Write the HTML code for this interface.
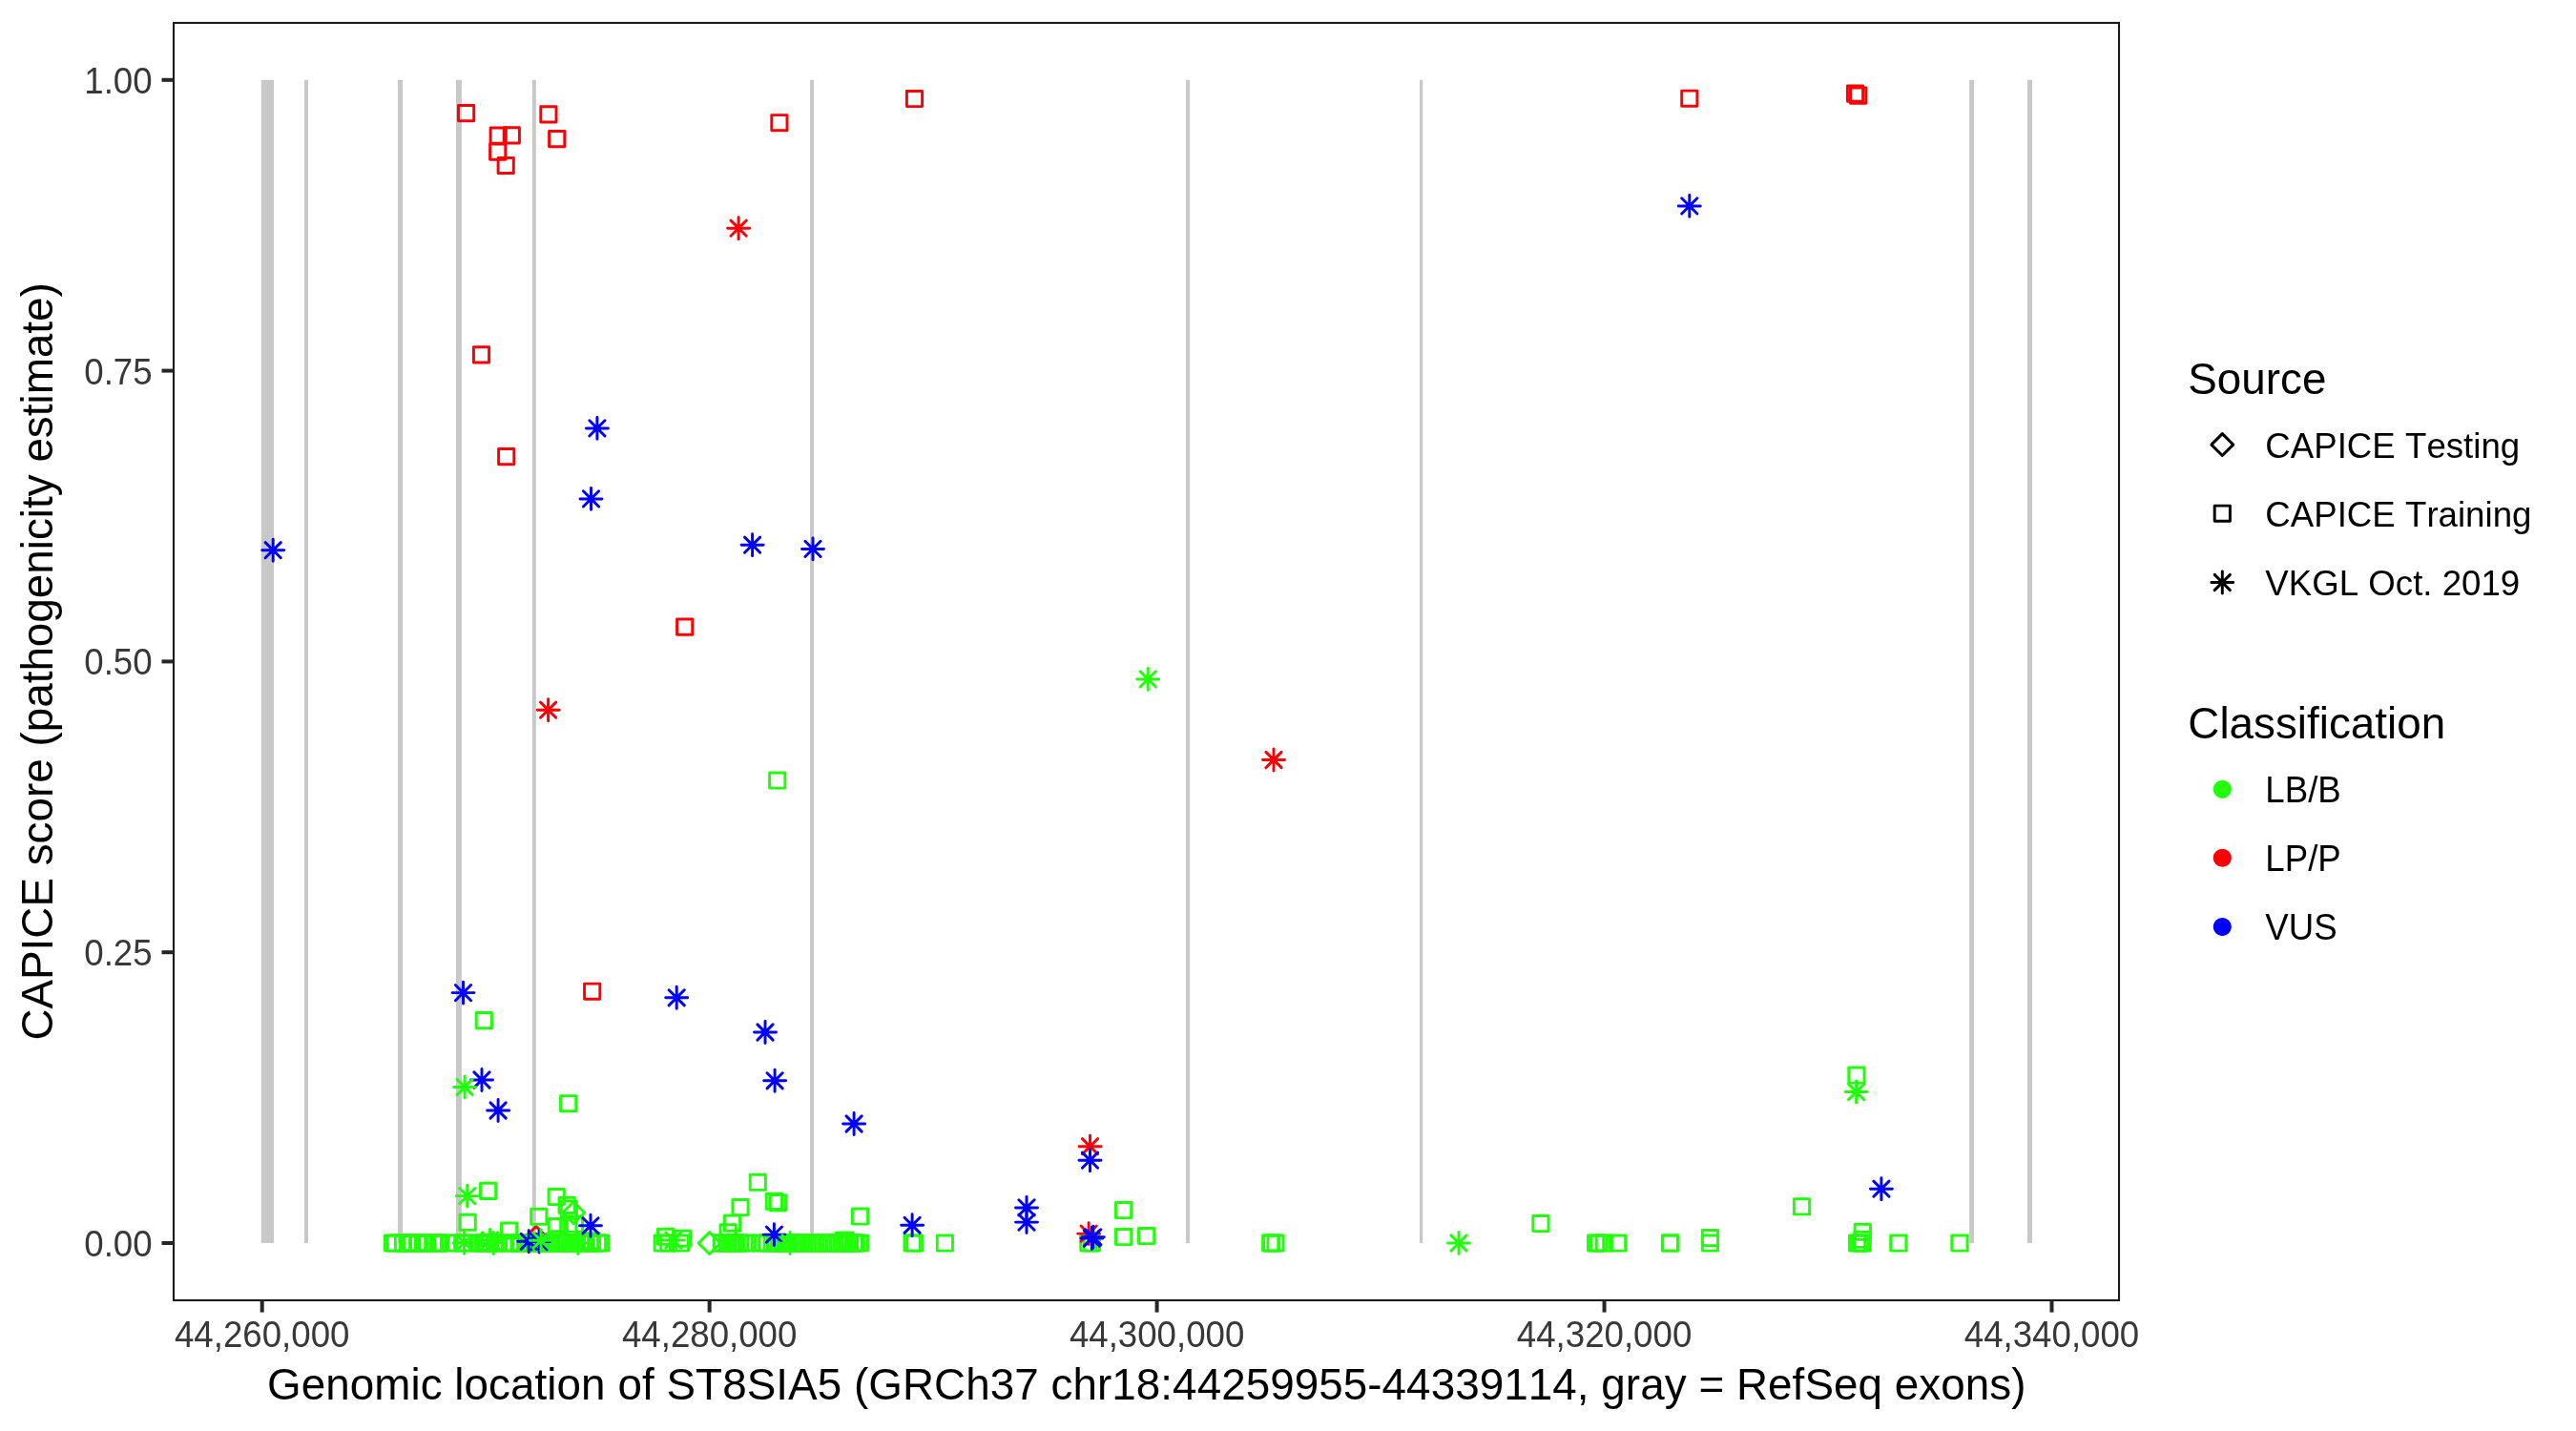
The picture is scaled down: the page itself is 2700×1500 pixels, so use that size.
<!DOCTYPE html>
<html><head><meta charset="utf-8"><title>CAPICE ST8SIA5</title>
<style>html,body{margin:0;padding:0;background:#fff;}body{width:2700px;height:1500px;overflow:hidden;}svg{display:block;font-family:"Liberation Sans", sans-serif;} text{filter:grayscale(1);font-kerning:none;font-variant-ligatures:none;}</style></head><body>
<svg width="2700" height="1500" viewBox="0 0 2700 1500">
<rect width="2700" height="1500" fill="#fff"/>
<g fill="#C8C8C8">
<rect x="273.8" y="83.8" width="13.3" height="1219.2"/>
<rect x="319" y="83.8" width="4" height="1219.2"/>
<rect x="416.9" y="83.8" width="5.2" height="1219.2"/>
<rect x="478" y="83.8" width="5.9" height="1219.2"/>
<rect x="557.8" y="83.8" width="4" height="1219.2"/>
<rect x="849" y="83.8" width="4" height="1219.2"/>
<rect x="1243" y="83.8" width="4.1" height="1219.2"/>
<rect x="1488" y="83.8" width="3.2" height="1219.2"/>
<rect x="2064.1" y="83.8" width="4.9" height="1219.2"/>
<rect x="2125" y="83.8" width="5" height="1219.2"/>
</g>
<g fill="none" stroke-width="2.95" stroke-linecap="round" stroke-linejoin="round">
<path d="M732.14 1303.1L743.6 1291.64L755.06 1303.1L743.6 1314.56Z" stroke="#22FF0A"/>
<path d="M589.74 1271.2L601.2 1259.74L612.66 1271.2L601.2 1282.66Z" stroke="#22FF0A"/>
<path d="M550.44 1296.9L561.9 1285.44L573.36 1296.9L561.9 1308.36Z" stroke="#FD0006"/>
<rect x="806.6" y="809.9" width="16.2" height="16.2" stroke="#22FF0A"/>
<rect x="499.2" y="1061.5" width="16.2" height="16.2" stroke="#22FF0A"/>
<rect x="587.5" y="1148.6" width="16.2" height="16.2" stroke="#22FF0A"/>
<rect x="1937.8" y="1118.9" width="16.2" height="16.2" stroke="#22FF0A"/>
<rect x="503.5" y="1240.3" width="16.2" height="16.2" stroke="#22FF0A"/>
<rect x="482.1" y="1273.2" width="16.2" height="16.2" stroke="#22FF0A"/>
<rect x="525.5" y="1281.9" width="16.2" height="16.2" stroke="#22FF0A"/>
<rect x="556.7" y="1267.2" width="16.2" height="16.2" stroke="#22FF0A"/>
<rect x="575.1" y="1246.4" width="16.2" height="16.2" stroke="#22FF0A"/>
<rect x="586" y="1255.3" width="16.2" height="16.2" stroke="#22FF0A"/>
<rect x="575.3" y="1277.5" width="16.2" height="16.2" stroke="#22FF0A"/>
<rect x="587.7" y="1277.9" width="16.2" height="16.2" stroke="#22FF0A"/>
<rect x="755" y="1283.8" width="16.2" height="16.2" stroke="#22FF0A"/>
<rect x="759.4" y="1274.1" width="16.2" height="16.2" stroke="#22FF0A"/>
<rect x="767.9" y="1257.4" width="16.2" height="16.2" stroke="#22FF0A"/>
<rect x="786.2" y="1231.2" width="16.2" height="16.2" stroke="#22FF0A"/>
<rect x="803.3" y="1251.2" width="16.2" height="16.2" stroke="#22FF0A"/>
<rect x="807.3" y="1252.6" width="16.2" height="16.2" stroke="#22FF0A"/>
<rect x="893.4" y="1266.9" width="16.2" height="16.2" stroke="#22FF0A"/>
<rect x="1169.5" y="1260.4" width="16.2" height="16.2" stroke="#22FF0A"/>
<rect x="1169.5" y="1288.4" width="16.2" height="16.2" stroke="#22FF0A"/>
<rect x="1193.5" y="1287.4" width="16.2" height="16.2" stroke="#22FF0A"/>
<rect x="1606.8" y="1274.4" width="16.2" height="16.2" stroke="#22FF0A"/>
<rect x="1784.3" y="1289.4" width="16.2" height="16.2" stroke="#22FF0A"/>
<rect x="1880.4" y="1256.7" width="16.2" height="16.2" stroke="#22FF0A"/>
<rect x="1944.2" y="1283.2" width="16.2" height="16.2" stroke="#22FF0A"/>
<rect x="403.4" y="1294.9" width="16.2" height="16.2" stroke="#22FF0A"/>
<rect x="406.15" y="1294.9" width="16.2" height="16.2" stroke="#22FF0A"/>
<rect x="414.4" y="1294.9" width="16.2" height="16.2" stroke="#22FF0A"/>
<rect x="419.15" y="1294.9" width="16.2" height="16.2" stroke="#22FF0A"/>
<rect x="419.9" y="1294.9" width="16.2" height="16.2" stroke="#22FF0A"/>
<rect x="422.9" y="1294.9" width="16.2" height="16.2" stroke="#22FF0A"/>
<rect x="423.4" y="1294.9" width="16.2" height="16.2" stroke="#22FF0A"/>
<rect x="429.65" y="1294.9" width="16.2" height="16.2" stroke="#22FF0A"/>
<rect x="429.9" y="1294.9" width="16.2" height="16.2" stroke="#22FF0A"/>
<rect x="435.4" y="1294.9" width="16.2" height="16.2" stroke="#22FF0A"/>
<rect x="439.4" y="1294.9" width="16.2" height="16.2" stroke="#22FF0A"/>
<rect x="447.4" y="1294.9" width="16.2" height="16.2" stroke="#22FF0A"/>
<rect x="451.15" y="1294.9" width="16.2" height="16.2" stroke="#22FF0A"/>
<rect x="453.4" y="1294.9" width="16.2" height="16.2" stroke="#22FF0A"/>
<rect x="462.4" y="1294.9" width="16.2" height="16.2" stroke="#22FF0A"/>
<rect x="476.65" y="1294.9" width="16.2" height="16.2" stroke="#22FF0A"/>
<rect x="478.9" y="1294.9" width="16.2" height="16.2" stroke="#22FF0A"/>
<rect x="494.4" y="1294.9" width="16.2" height="16.2" stroke="#22FF0A"/>
<rect x="497.9" y="1294.9" width="16.2" height="16.2" stroke="#22FF0A"/>
<rect x="498.4" y="1294.9" width="16.2" height="16.2" stroke="#22FF0A"/>
<rect x="501.4" y="1294.9" width="16.2" height="16.2" stroke="#22FF0A"/>
<rect x="501.9" y="1294.9" width="16.2" height="16.2" stroke="#22FF0A"/>
<rect x="504.9" y="1294.9" width="16.2" height="16.2" stroke="#22FF0A"/>
<rect x="505.15" y="1294.9" width="16.2" height="16.2" stroke="#22FF0A"/>
<rect x="510.9" y="1294.9" width="16.2" height="16.2" stroke="#22FF0A"/>
<rect x="514.4" y="1294.9" width="16.2" height="16.2" stroke="#22FF0A"/>
<rect x="526.4" y="1294.9" width="16.2" height="16.2" stroke="#22FF0A"/>
<rect x="529.9" y="1294.9" width="16.2" height="16.2" stroke="#22FF0A"/>
<rect x="535.9" y="1294.9" width="16.2" height="16.2" stroke="#22FF0A"/>
<rect x="537.4" y="1294.9" width="16.2" height="16.2" stroke="#22FF0A"/>
<rect x="543.4" y="1294.9" width="16.2" height="16.2" stroke="#22FF0A"/>
<rect x="548.9" y="1294.9" width="16.2" height="16.2" stroke="#22FF0A"/>
<rect x="552.4" y="1294.9" width="16.2" height="16.2" stroke="#22FF0A"/>
<rect x="555.4" y="1294.9" width="16.2" height="16.2" stroke="#22FF0A"/>
<rect x="555.9" y="1294.9" width="16.2" height="16.2" stroke="#22FF0A"/>
<rect x="558.9" y="1294.9" width="16.2" height="16.2" stroke="#22FF0A"/>
<rect x="562.4" y="1294.9" width="16.2" height="16.2" stroke="#22FF0A"/>
<rect x="565.9" y="1294.9" width="16.2" height="16.2" stroke="#22FF0A"/>
<rect x="566.4" y="1294.9" width="16.2" height="16.2" stroke="#22FF0A"/>
<rect x="575.4" y="1294.9" width="16.2" height="16.2" stroke="#22FF0A"/>
<rect x="576.9" y="1294.9" width="16.2" height="16.2" stroke="#22FF0A"/>
<rect x="581.4" y="1294.9" width="16.2" height="16.2" stroke="#22FF0A"/>
<rect x="585.4" y="1294.9" width="16.2" height="16.2" stroke="#22FF0A"/>
<rect x="585.9" y="1294.9" width="16.2" height="16.2" stroke="#22FF0A"/>
<rect x="588.9" y="1294.9" width="16.2" height="16.2" stroke="#22FF0A"/>
<rect x="592.4" y="1294.9" width="16.2" height="16.2" stroke="#22FF0A"/>
<rect x="595.9" y="1294.9" width="16.2" height="16.2" stroke="#22FF0A"/>
<rect x="600.4" y="1294.9" width="16.2" height="16.2" stroke="#22FF0A"/>
<rect x="605.65" y="1294.9" width="16.2" height="16.2" stroke="#22FF0A"/>
<rect x="610.4" y="1294.9" width="16.2" height="16.2" stroke="#22FF0A"/>
<rect x="612.4" y="1294.9" width="16.2" height="16.2" stroke="#22FF0A"/>
<rect x="618.4" y="1294.9" width="16.2" height="16.2" stroke="#22FF0A"/>
<rect x="621.4" y="1294.9" width="16.2" height="16.2" stroke="#22FF0A"/>
<rect x="686.1" y="1294.9" width="16.2" height="16.2" stroke="#22FF0A"/>
<rect x="692.7" y="1294.9" width="16.2" height="16.2" stroke="#22FF0A"/>
<rect x="705.3" y="1294.9" width="16.2" height="16.2" stroke="#22FF0A"/>
<rect x="748.2" y="1294.9" width="16.2" height="16.2" stroke="#22FF0A"/>
<rect x="748.45" y="1294.9" width="16.2" height="16.2" stroke="#22FF0A"/>
<rect x="754.2" y="1294.9" width="16.2" height="16.2" stroke="#22FF0A"/>
<rect x="754.7" y="1294.9" width="16.2" height="16.2" stroke="#22FF0A"/>
<rect x="757.7" y="1294.9" width="16.2" height="16.2" stroke="#22FF0A"/>
<rect x="758.2" y="1294.9" width="16.2" height="16.2" stroke="#22FF0A"/>
<rect x="761.2" y="1294.9" width="16.2" height="16.2" stroke="#22FF0A"/>
<rect x="763.45" y="1294.9" width="16.2" height="16.2" stroke="#22FF0A"/>
<rect x="767.45" y="1294.9" width="16.2" height="16.2" stroke="#22FF0A"/>
<rect x="775.2" y="1294.9" width="16.2" height="16.2" stroke="#22FF0A"/>
<rect x="788.2" y="1294.9" width="16.2" height="16.2" stroke="#22FF0A"/>
<rect x="795.7" y="1294.9" width="16.2" height="16.2" stroke="#22FF0A"/>
<rect x="801.2" y="1294.9" width="16.2" height="16.2" stroke="#22FF0A"/>
<rect x="804.7" y="1294.9" width="16.2" height="16.2" stroke="#22FF0A"/>
<rect x="807.7" y="1294.9" width="16.2" height="16.2" stroke="#22FF0A"/>
<rect x="808.7" y="1294.9" width="16.2" height="16.2" stroke="#22FF0A"/>
<rect x="812.2" y="1294.9" width="16.2" height="16.2" stroke="#22FF0A"/>
<rect x="815.2" y="1294.9" width="16.2" height="16.2" stroke="#22FF0A"/>
<rect x="818.7" y="1294.9" width="16.2" height="16.2" stroke="#22FF0A"/>
<rect x="824.2" y="1294.9" width="16.2" height="16.2" stroke="#22FF0A"/>
<rect x="827.2" y="1294.9" width="16.2" height="16.2" stroke="#22FF0A"/>
<rect x="831.7" y="1294.9" width="16.2" height="16.2" stroke="#22FF0A"/>
<rect x="835.2" y="1294.9" width="16.2" height="16.2" stroke="#22FF0A"/>
<rect x="838.2" y="1294.9" width="16.2" height="16.2" stroke="#22FF0A"/>
<rect x="843.7" y="1294.9" width="16.2" height="16.2" stroke="#22FF0A"/>
<rect x="846.7" y="1294.9" width="16.2" height="16.2" stroke="#22FF0A"/>
<rect x="850.2" y="1294.9" width="16.2" height="16.2" stroke="#22FF0A"/>
<rect x="854.7" y="1294.9" width="16.2" height="16.2" stroke="#22FF0A"/>
<rect x="857.7" y="1294.9" width="16.2" height="16.2" stroke="#22FF0A"/>
<rect x="863.2" y="1294.9" width="16.2" height="16.2" stroke="#22FF0A"/>
<rect x="866.7" y="1294.9" width="16.2" height="16.2" stroke="#22FF0A"/>
<rect x="869.7" y="1294.9" width="16.2" height="16.2" stroke="#22FF0A"/>
<rect x="874.2" y="1294.9" width="16.2" height="16.2" stroke="#22FF0A"/>
<rect x="877.2" y="1294.9" width="16.2" height="16.2" stroke="#22FF0A"/>
<rect x="877.7" y="1294.9" width="16.2" height="16.2" stroke="#22FF0A"/>
<rect x="880.7" y="1294.9" width="16.2" height="16.2" stroke="#22FF0A"/>
<rect x="882.45" y="1294.9" width="16.2" height="16.2" stroke="#22FF0A"/>
<rect x="887.2" y="1294.9" width="16.2" height="16.2" stroke="#22FF0A"/>
<rect x="889.2" y="1294.9" width="16.2" height="16.2" stroke="#22FF0A"/>
<rect x="893.2" y="1294.9" width="16.2" height="16.2" stroke="#22FF0A"/>
<rect x="948" y="1294.9" width="16.2" height="16.2" stroke="#22FF0A"/>
<rect x="950.7" y="1294.9" width="16.2" height="16.2" stroke="#22FF0A"/>
<rect x="982.3" y="1294.9" width="16.2" height="16.2" stroke="#22FF0A"/>
<rect x="1132.8" y="1294.9" width="16.2" height="16.2" stroke="#22FF0A"/>
<rect x="1136.2" y="1294.9" width="16.2" height="16.2" stroke="#22FF0A"/>
<rect x="1323.6" y="1294.9" width="16.2" height="16.2" stroke="#22FF0A"/>
<rect x="1324.6" y="1294.9" width="16.2" height="16.2" stroke="#22FF0A"/>
<rect x="1328.9" y="1294.9" width="16.2" height="16.2" stroke="#22FF0A"/>
<rect x="1664.5" y="1294.9" width="16.2" height="16.2" stroke="#22FF0A"/>
<rect x="1667.5" y="1294.9" width="16.2" height="16.2" stroke="#22FF0A"/>
<rect x="1673.2" y="1294.9" width="16.2" height="16.2" stroke="#22FF0A"/>
<rect x="1687.5" y="1294.9" width="16.2" height="16.2" stroke="#22FF0A"/>
<rect x="1742.3" y="1294.9" width="16.2" height="16.2" stroke="#22FF0A"/>
<rect x="1742.8" y="1294.9" width="16.2" height="16.2" stroke="#22FF0A"/>
<rect x="1784.3" y="1294.9" width="16.2" height="16.2" stroke="#22FF0A"/>
<rect x="1938.5" y="1294.9" width="16.2" height="16.2" stroke="#22FF0A"/>
<rect x="1941.5" y="1294.9" width="16.2" height="16.2" stroke="#22FF0A"/>
<rect x="1943.8" y="1294.9" width="16.2" height="16.2" stroke="#22FF0A"/>
<rect x="1981.7" y="1294.9" width="16.2" height="16.2" stroke="#22FF0A"/>
<rect x="2045.8" y="1294.9" width="16.2" height="16.2" stroke="#22FF0A"/>
<rect x="689.5" y="1288.2" width="16.2" height="16.2" stroke="#22FF0A"/>
<rect x="707.4" y="1290.1" width="16.2" height="16.2" stroke="#22FF0A"/>
<rect x="588.2" y="1259" width="16.2" height="16.2" stroke="#22FF0A"/>
<rect x="594.4" y="1274.9" width="16.2" height="16.2" stroke="#22FF0A"/>
<rect x="612.2" y="1292.6" width="16.2" height="16.2" stroke="#22FF0A"/>
<rect x="577.9" y="1290.7" width="16.2" height="16.2" stroke="#22FF0A"/>
<rect x="1943.9" y="1291.2" width="16.2" height="16.2" stroke="#22FF0A"/>
<rect x="875.9" y="1292.2" width="16.2" height="16.2" stroke="#22FF0A"/>
<rect x="877.9" y="1292.2" width="16.2" height="16.2" stroke="#22FF0A"/>
<rect x="480.5" y="110.5" width="16.2" height="16.2" stroke="#FD0006"/>
<rect x="514.1" y="134" width="16.2" height="16.2" stroke="#FD0006"/>
<rect x="528.2" y="133.7" width="16.2" height="16.2" stroke="#FD0006"/>
<rect x="513.6" y="151" width="16.2" height="16.2" stroke="#FD0006"/>
<rect x="522.1" y="165.4" width="16.2" height="16.2" stroke="#FD0006"/>
<rect x="566.8" y="111.7" width="16.2" height="16.2" stroke="#FD0006"/>
<rect x="575.6" y="137.5" width="16.2" height="16.2" stroke="#FD0006"/>
<rect x="808.8" y="120.6" width="16.2" height="16.2" stroke="#FD0006"/>
<rect x="950.4" y="95.4" width="16.2" height="16.2" stroke="#FD0006"/>
<rect x="1762.7" y="95.1" width="16.2" height="16.2" stroke="#FD0006"/>
<rect x="1936.4" y="90" width="16.2" height="16.2" stroke="#FD0006"/>
<rect x="1939.5" y="92" width="16.2" height="16.2" stroke="#FD0006"/>
<rect x="496.4" y="363.7" width="16.2" height="16.2" stroke="#FD0006"/>
<rect x="522.6" y="470.5" width="16.2" height="16.2" stroke="#FD0006"/>
<rect x="709.6" y="649" width="16.2" height="16.2" stroke="#FD0006"/>
<rect x="612.6" y="1031.1" width="16.2" height="16.2" stroke="#FD0006"/>
<path d="M766 231.1L782.2 247.3M766 247.3L782.2 231.1M762.64 239.2L785.56 239.2M774.1 227.74L774.1 250.66" stroke="#FD0006"/>
<path d="M566.5 736.1L582.7 752.3M566.5 752.3L582.7 736.1M563.14 744.2L586.06 744.2M574.6 732.74L574.6 755.66" stroke="#FD0006"/>
<path d="M1326.9 788.4L1343.1 804.6M1326.9 804.6L1343.1 788.4M1323.54 796.5L1346.46 796.5M1335 785.04L1335 807.96" stroke="#FD0006"/>
<path d="M1134.4 1193.6L1150.6 1209.8M1134.4 1209.8L1150.6 1193.6M1131.04 1201.7L1153.96 1201.7M1142.5 1190.24L1142.5 1213.16" stroke="#FD0006"/>
<path d="M1133 1285L1149.2 1301.2M1133 1301.2L1149.2 1285M1129.64 1293.1L1152.56 1293.1M1141.1 1281.64L1141.1 1304.56" stroke="#FD0006"/>
<path d="M1762.7 207.8L1778.9 224M1762.7 224L1778.9 207.8M1759.34 215.9L1782.26 215.9M1770.8 204.44L1770.8 227.36" stroke="#0000FF"/>
<path d="M617.8 440.8L634 457M617.8 457L634 440.8M614.44 448.9L637.36 448.9M625.9 437.44L625.9 460.36" stroke="#0000FF"/>
<path d="M611.4 514.8L627.6 531M611.4 531L627.6 514.8M608.04 522.9L630.96 522.9M619.5 511.44L619.5 534.36" stroke="#0000FF"/>
<path d="M278.1 568.6L294.3 584.8M278.1 584.8L294.3 568.6M274.74 576.7L297.66 576.7M286.2 565.24L286.2 588.16" stroke="#0000FF"/>
<path d="M780.5 563.1L796.7 579.3M780.5 579.3L796.7 563.1M777.14 571.2L800.06 571.2M788.6 559.74L788.6 582.66" stroke="#0000FF"/>
<path d="M843.9 567.3L860.1 583.5M843.9 583.5L860.1 567.3M840.54 575.4L863.46 575.4M852 563.94L852 586.86" stroke="#0000FF"/>
<path d="M477.4 1032.5L493.6 1048.7M477.4 1048.7L493.6 1032.5M474.04 1040.6L496.96 1040.6M485.5 1029.14L485.5 1052.06" stroke="#0000FF"/>
<path d="M496.9 1123.9L513.1 1140.1M496.9 1140.1L513.1 1123.9M493.54 1132L516.46 1132M505 1120.54L505 1143.46" stroke="#0000FF"/>
<path d="M514 1155.9L530.2 1172.1M514 1172.1L530.2 1155.9M510.64 1164L533.56 1164M522.1 1152.54L522.1 1175.46" stroke="#0000FF"/>
<path d="M701.1 1037.7L717.3 1053.9M701.1 1053.9L717.3 1037.7M697.74 1045.8L720.66 1045.8M709.2 1034.34L709.2 1057.26" stroke="#0000FF"/>
<path d="M793.9 1073.9L810.1 1090.1M793.9 1090.1L810.1 1073.9M790.54 1082L813.46 1082M802 1070.54L802 1093.46" stroke="#0000FF"/>
<path d="M804 1124.7L820.2 1140.9M804 1140.9L820.2 1124.7M800.64 1132.8L823.56 1132.8M812.1 1121.34L812.1 1144.26" stroke="#0000FF"/>
<path d="M887 1169.9L903.2 1186.1M887 1186.1L903.2 1169.9M883.64 1178L906.56 1178M895.1 1166.54L895.1 1189.46" stroke="#0000FF"/>
<path d="M1134.4 1208.1L1150.6 1224.3M1134.4 1224.3L1150.6 1208.1M1131.04 1216.2L1153.96 1216.2M1142.5 1204.74L1142.5 1227.66" stroke="#0000FF"/>
<path d="M1067.9 1257.8L1084.1 1274M1067.9 1274L1084.1 1257.8M1064.54 1265.9L1087.46 1265.9M1076 1254.44L1076 1277.36" stroke="#0000FF"/>
<path d="M1067.9 1273L1084.1 1289.2M1067.9 1289.2L1084.1 1273M1064.54 1281.1L1087.46 1281.1M1076 1269.64L1076 1292.56" stroke="#0000FF"/>
<path d="M948 1276.2L964.2 1292.4M948 1292.4L964.2 1276.2M944.64 1284.3L967.56 1284.3M956.1 1272.84L956.1 1295.76" stroke="#0000FF"/>
<path d="M1136.2 1289.9L1152.4 1306.1M1136.2 1306.1L1152.4 1289.9M1132.84 1298L1155.76 1298M1144.3 1286.54L1144.3 1309.46" stroke="#0000FF"/>
<path d="M1137.7 1288.7L1153.9 1304.9M1137.7 1304.9L1153.9 1288.7M1134.34 1296.8L1157.26 1296.8M1145.8 1285.34L1145.8 1308.26" stroke="#0000FF"/>
<path d="M1963.8 1238.1L1980 1254.3M1963.8 1254.3L1980 1238.1M1960.44 1246.2L1983.36 1246.2M1971.9 1234.74L1971.9 1257.66" stroke="#0000FF"/>
<path d="M610.9 1276.7L627.1 1292.9M610.9 1292.9L627.1 1276.7M607.54 1284.8L630.46 1284.8M619 1273.34L619 1296.26" stroke="#0000FF"/>
<path d="M546.1 1293.2L562.3 1309.4M546.1 1309.4L562.3 1293.2M542.74 1301.3L565.66 1301.3M554.2 1289.84L554.2 1312.76" stroke="#0000FF"/>
<path d="M557 1293.5L573.2 1309.7M557 1309.7L573.2 1293.5M553.64 1301.6L576.56 1301.6M565.1 1290.14L565.1 1313.06" stroke="#0000FF"/>
<path d="M803.3 1286L819.5 1302.2M803.3 1302.2L819.5 1286M799.94 1294.1L822.86 1294.1M811.4 1282.64L811.4 1305.56" stroke="#0000FF"/>
<path d="M1195.1 703.8L1211.3 720M1195.1 720L1211.3 703.8M1191.74 711.9L1214.66 711.9M1203.2 700.44L1203.2 723.36" stroke="#22FF0A"/>
<path d="M479 1131.4L495.2 1147.6M479 1147.6L495.2 1131.4M475.64 1139.5L498.56 1139.5M487.1 1128.04L487.1 1150.96" stroke="#22FF0A"/>
<path d="M481.6 1245.5L497.8 1261.7M481.6 1261.7L497.8 1245.5M478.24 1253.6L501.16 1253.6M489.7 1242.14L489.7 1265.06" stroke="#22FF0A"/>
<path d="M1937.5 1136.4L1953.7 1152.6M1937.5 1152.6L1953.7 1136.4M1934.14 1144.5L1957.06 1144.5M1945.6 1133.04L1945.6 1155.96" stroke="#22FF0A"/>
<path d="M558.9 1292.2L575.1 1308.4M558.9 1308.4L575.1 1292.2M555.54 1300.3L578.46 1300.3M567 1288.84L567 1311.76" stroke="#22FF0A"/>
<path d="M478.5 1294.6L494.7 1310.8M478.5 1310.8L494.7 1294.6M475.14 1302.7L498.06 1302.7M486.6 1291.24L486.6 1314.16" stroke="#22FF0A"/>
<path d="M697.7 1291.9L713.9 1308.1M697.7 1308.1L713.9 1291.9M694.34 1300L717.26 1300M705.8 1288.54L705.8 1311.46" stroke="#22FF0A"/>
<path d="M505.4 1291.9L521.6 1308.1M505.4 1308.1L521.6 1291.9M502.04 1300L524.96 1300M513.5 1288.54L513.5 1311.46" stroke="#22FF0A"/>
<path d="M509 1294.9L525.2 1311.1M509 1311.1L525.2 1294.9M505.64 1303L528.56 1303M517.1 1291.54L517.1 1314.46" stroke="#22FF0A"/>
<path d="M597.6 1294.9L613.8 1311.1M597.6 1311.1L613.8 1294.9M594.24 1303L617.16 1303M605.7 1291.54L605.7 1314.46" stroke="#22FF0A"/>
<path d="M819.9 1294.9L836.1 1311.1M819.9 1311.1L836.1 1294.9M816.54 1303L839.46 1303M828 1291.54L828 1314.46" stroke="#22FF0A"/>
<path d="M1520.9 1294.9L1537.1 1311.1M1520.9 1311.1L1537.1 1294.9M1517.54 1303L1540.46 1303M1529 1291.54L1529 1314.46" stroke="#22FF0A"/>
</g>
<rect x="182" y="24" width="2039" height="1339" fill="none" stroke="#1A1A1A" stroke-width="2.1"/>
<g stroke="#262626" stroke-width="4.0">
<line x1="169.5" y1="83.8" x2="182" y2="83.8"/>
<line x1="169.5" y1="388.6" x2="182" y2="388.6"/>
<line x1="169.5" y1="693.4" x2="182" y2="693.4"/>
<line x1="169.5" y1="998.2" x2="182" y2="998.2"/>
<line x1="169.5" y1="1303" x2="182" y2="1303"/>
<line x1="274.7" y1="1363" x2="274.7" y2="1375.6"/>
<line x1="743.65" y1="1363" x2="743.65" y2="1375.6"/>
<line x1="1212.6" y1="1363" x2="1212.6" y2="1375.6"/>
<line x1="1681.55" y1="1363" x2="1681.55" y2="1375.6"/>
<line x1="2150.5" y1="1363" x2="2150.5" y2="1375.6"/>
</g>
<g fill="#383838" font-size="36.67px">
<text transform="translate(159.6,97.8) scale(1,1.035)" text-anchor="end">1.00</text>
<text transform="translate(159.6,402.6) scale(1,1.035)" text-anchor="end">0.75</text>
<text transform="translate(159.6,707.4) scale(1,1.035)" text-anchor="end">0.50</text>
<text transform="translate(159.6,1012.2) scale(1,1.035)" text-anchor="end">0.25</text>
<text transform="translate(159.6,1317) scale(1,1.035)" text-anchor="end">0.00</text>
<text transform="translate(274.7,1412) scale(1,1.035)" text-anchor="middle">44,260,000</text>
<text transform="translate(743.65,1412) scale(1,1.035)" text-anchor="middle">44,280,000</text>
<text transform="translate(1212.6,1412) scale(1,1.035)" text-anchor="middle">44,300,000</text>
<text transform="translate(1681.55,1412) scale(1,1.035)" text-anchor="middle">44,320,000</text>
<text transform="translate(2150.5,1412) scale(1,1.035)" text-anchor="middle">44,340,000</text>
</g>
<g fill="#000" font-size="45.83px">
<text transform="translate(1201.75,1467) scale(1,1.015)" text-anchor="middle" textLength="1843.6" lengthAdjust="spacing">Genomic location of ST8SIA5 (GRCh37 chr18:44259955-44339114, gray = RefSeq exons)</text>
<text transform="translate(54.8,693.4) rotate(-90) scale(1,1.015)" text-anchor="middle">CAPICE score (pathogenicity estimate)</text>
<text transform="translate(2293.3,413) scale(1,1.015)">Source</text>
<text transform="translate(2293.3,774.3) scale(1,1.015)">Classification</text>
</g>
<g fill="#000" font-size="36.67px">
<text transform="translate(2374.3,480) scale(1,1.015)">CAPICE Testing</text>
<text transform="translate(2374.3,552.3) scale(1,1.015)">CAPICE Training</text>
<text transform="translate(2374.3,624.2) scale(1,1.015)">VKGL Oct. 2019</text>
<text transform="translate(2374.3,841.2) scale(1,1.035)">LB/B</text>
<text transform="translate(2374.3,913.3) scale(1,1.035)">LP/P</text>
<text transform="translate(2374.3,985.2) scale(1,1.035)">VUS</text>
</g>
<g fill="none" stroke-width="2.95" stroke-linecap="round" stroke-linejoin="round">
<path d="M2317.84 466.1L2329.3 454.64L2340.76 466.1L2329.3 477.56Z" stroke="#000000"/>
<rect x="2321.2" y="530.1" width="16.2" height="16.2" stroke="#000000"/>
<path d="M2321.2 602.4L2337.4 618.6M2321.2 618.6L2337.4 602.4M2317.84 610.5L2340.76 610.5M2329.3 599.04L2329.3 621.96" stroke="#000000"/>
</g>
<circle cx="2329.3" cy="827.3" r="8.1" fill="#22FF0A" stroke="#22FF0A" stroke-width="2.95"/>
<circle cx="2329.3" cy="899.2" r="8.1" fill="#FD0006" stroke="#FD0006" stroke-width="2.95"/>
<circle cx="2329.3" cy="971.6" r="8.1" fill="#0000FF" stroke="#0000FF" stroke-width="2.95"/>
</svg></body></html>
